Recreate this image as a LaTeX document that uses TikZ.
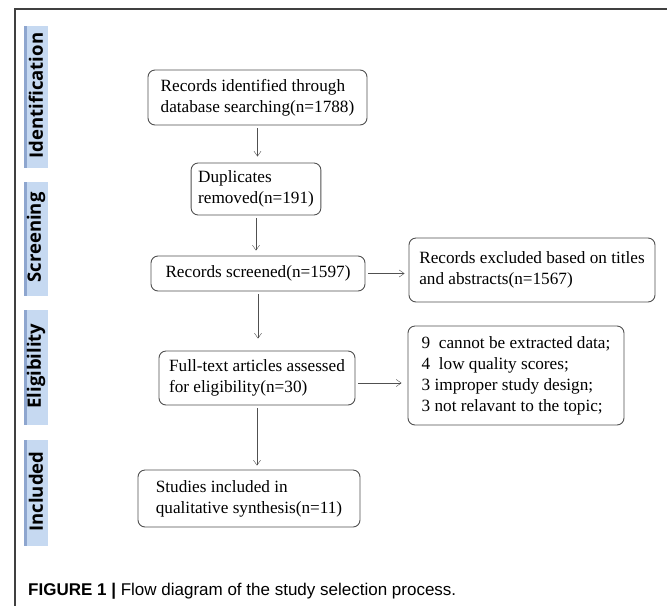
\documentclass[tikz,border=0pt]{standalone}
\usepackage{fontspec}
\setmainfont{Liberation Serif}
\newfontfamily\stagefont{Open Sans}
\newfontfamily\capfont{Liberation Sans}
\usetikzlibrary{arrows.meta,positioning}

\definecolor{stageblue}{HTML}{C6D9F1}
\definecolor{stageedge}{HTML}{8EA6CF}
\definecolor{boxline}{HTML}{505050}
\definecolor{frameline}{HTML}{404040}

\tikzset{
  basic/.style  = {draw=boxline, line width=0.9pt, rounded corners=7pt, inner xsep=7pt, inner ysep=3pt,
                   font=\fontsize{17.2}{21}\selectfont},
  flowbox/.style = {basic, align=left},
  centrebox/.style = {basic, align=center},
  stage/.style  = {fill=stageblue, minimum width=24pt, inner sep=0pt,
                   path picture={\fill[stageedge] (path picture bounding box.south west)
                     rectangle ([xshift=3pt]path picture bounding box.north east -| path picture bounding box.west);}},
  stagetext/.style = {rotate=90, inner sep=0pt, font=\stagefont\bfseries\fontsize{18.5}{19}\selectfont}
}

\begin{document}
\begin{tikzpicture}[x=1pt, y=-1pt, >={Straight Barb[length=5pt,width=7pt]}]
\useasboundingbox (0,0) rectangle (667,606);

% frame of the figure
\draw[frameline, line width=2pt] (14,9) -- (667,9);
\draw[frameline, line width=1.5pt] (15,9) -- (15,606);

% stages on the left
\foreach \name/\yc/\h/\txt in {ident/97/142/Identification, screen/239/114/Screening,
                                elig/367.5/115/Eligibility, incl/493/106/Included}
  \node[stage, minimum height=\h pt, label={[stagetext, xshift=1.5pt]center:\txt}] (\name) at (36,\yc) {};

% boxes of the flow
\node[flowbox, minimum width=219pt, minimum height=55pt] (rec) at (257.5,97.5)
  {Records identified through\\database searching(n=1788)};
\node[flowbox, minimum width=128pt, minimum height=52pt] (dup) at (256,189)
  {Duplicates\\removed(n=191)};
\node[centrebox, minimum width=214pt, minimum height=35pt] (scr) at (258,273.5)
  {Records screened(n=1597)};
\node[flowbox, minimum width=246pt, minimum height=64pt] (exc) at (532,270)
  {Records excluded based on titles\\and abstracts(n=1567)};
\node[flowbox, minimum width=196pt, minimum height=54pt] (full) at (257,378)
  {Full-text articles assessed\\for eligibility(n=30)};
\node[flowbox, minimum width=216pt, minimum height=99pt] (why) at (516,375.5)
  {9~~cannot be extracted data;\\4~~low quality scores;\\3 improper study design;\\3 not relavant to the topic;};
\node[flowbox, minimum width=222pt, minimum height=57pt] (inc) at (249,498.5)
  {Studies included in\\qualitative synthesis(n=11)};

% connectors
\draw[->, boxline, shorten <=3pt, shorten >=6pt] (rec.south) -- (rec.south |- dup.north);
\draw[->, boxline, shorten <=3pt, shorten >=5pt] (dup.south) -- (dup.south |- scr.north);
\draw[->, boxline, shorten <=3pt, shorten >=4pt] (scr.east) -- (scr.east -| exc.west);
\draw[->, boxline, shorten <=3pt, shorten >=12pt] (scr.south) -- (scr.south |- full.north);
\draw[->, boxline, shorten <=3pt, shorten >=6pt] ([yshift=-5pt]full.east) -- ([yshift=-5pt]full.east -| why.west);
\draw[->, boxline, shorten <=3pt, shorten >=4pt] (full.south) -- (full.south |- inc.north);

% caption
\node[anchor=base west, inner sep=0pt, font=\capfont\fontsize{17}{18}\selectfont] (caption) at (28,595)
  {\textbf{FIGURE 1} \textbf{|} Flow diagram of the study selection process.};
\end{tikzpicture}
\end{document}
